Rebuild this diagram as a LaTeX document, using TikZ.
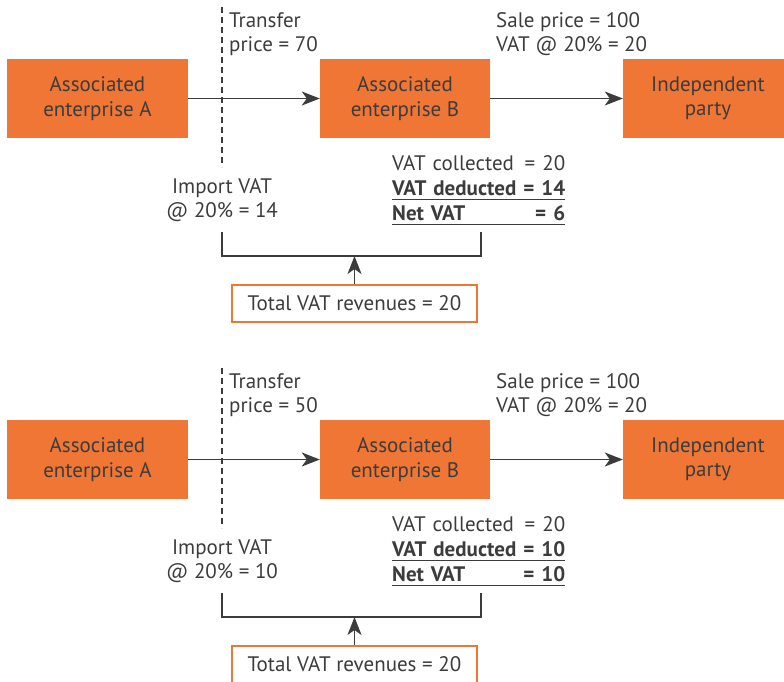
\documentclass[tikz,border=0pt]{standalone}
\usepackage{fontspec}
\setmainfont{PT Sans}
\usetikzlibrary{arrows.meta}

\definecolor{vatorange}{RGB}{240,118,54}
\definecolor{vatgray}{RGB}{60,60,60}

\tikzset{
  firm/.style={fill=vatorange, text=vatgray, align=center, inner sep=0pt,
    minimum width=170pt, minimum height=79pt},
  note/.style={text=vatgray, align=left, inner sep=0pt},
  vatline/.style={text=vatgray, inner sep=0pt, anchor=base west, text width=173pt},
  flow/.style={draw=vatgray, line width=1.3pt, -{Stealth[length=18pt, width=14pt, inset=5pt]}},
  link/.style={draw=vatgray, line width=1.3pt},
  border/.style={draw=vatgray, line width=1.3pt, dash pattern=on 6pt off 4pt},
  totalbox/.style={draw=vatorange, line width=2.5pt, fill=white, text=vatgray,
    minimum width=245pt, minimum height=37pt, inner sep=0pt}
}

\begin{document}
\begin{tikzpicture}[x=1pt, y=-1pt, font=\fontsize{21}{24.5}\selectfont]
  \useasboundingbox (0,0) rectangle (784,681);

  % two cases: transfer price 70 and transfer price 50
  \foreach \p/\dy/\tp/\imp/\net in {1/0/70/14/6, 2/361/50/10/10} {
  \begin{scope}[yshift=-\dy pt]
    % Enterprises
    \node[firm, minimum width=181pt] (entA\p) at (97.5,98.5) {Associated\\enterprise A};
    \node[firm] (entB\p) at (405,98.5) {Associated\\enterprise B};
    \node[firm] (indep\p) at (708,98.5) {Independent\\party};

    % Supply chain
    \draw[flow] (entA\p) -- (entB\p);
    \draw[flow] (entB\p) -- (indep\p);

    % Border
    \draw[border] (222,7) -- (222,167);

    % Prices
    \node[note, anchor=west] (tp\p) at (229,34) {Transfer\\price = \tp};
    \node[note, anchor=west] (sale\p) at (496,34) {Sale price = 100\\VAT @ 20\% = 20};

    % VAT at import
    \node[note, align=center] (imp\p) at (222,200) {Import VAT\\@ 20\% = \imp};

    % VAT account of B
    \node[vatline] (col\p) at (392,170) {VAT collected\hfill= 20};
    \node[vatline, font=\fontsize{21}{24.5}\selectfont\bfseries] (ded\p) at (392,195) {VAT deducted\hfill= \imp};
    \node[vatline, font=\fontsize{21}{24.5}\selectfont\bfseries] (net\p) at (392,220) {Net VAT\hfill= \net};
    \draw[link, line width=1pt] ([yshift=-4pt]ded\p.base west) -- ([yshift=-4pt]ded\p.base east);
    \draw[link, line width=1pt] ([yshift=-4pt]net\p.base west) -- ([yshift=-4pt]net\p.base east);

    % Total revenues
    \coordinate (bl\p) at (222,232);
    \coordinate (bb\p) at (222,256);
    \coordinate (br\p) at (481,232);
    \draw[link] (bl\p) -- (bb\p) -| (br\p);
    \node[totalbox] (total\p) at (354.5,303.5) {Total VAT revenues = 20};
    \draw[flow] (total\p) -- (total\p |- bb\p);
  \end{scope}
  }
\end{tikzpicture}
\end{document}
